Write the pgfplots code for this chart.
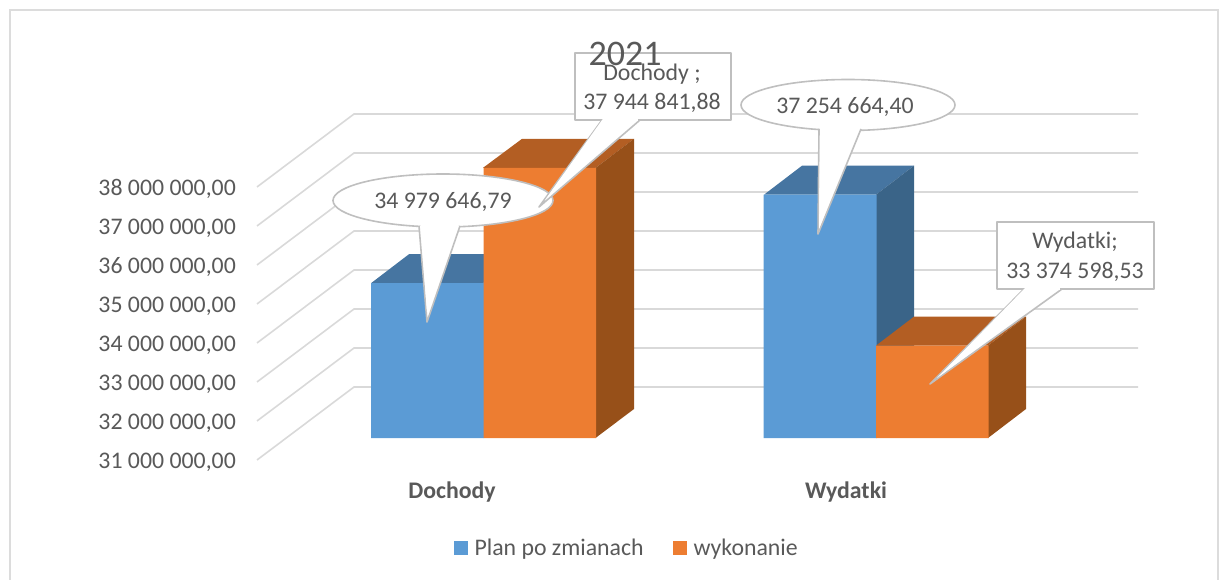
\documentclass[border=0pt]{standalone}
\usepackage{fontspec}
\setmainfont{Carlito}
\usepackage{pgfplots}
\pgfplotsset{compat=1.18}
\definecolor{txt}{HTML}{595959}
\definecolor{gridc}{HTML}{D9D9D9}
\definecolor{frame}{HTML}{DCDCDC}
\definecolor{callb}{HTML}{BFBFBF}
\definecolor{bluef}{HTML}{5B9BD5}
\definecolor{bluet}{HTML}{4675A1}
\definecolor{blues}{HTML}{3A6488}
\definecolor{orf}{HTML}{ED7D31}
\definecolor{ort}{HTML}{B35E23}
\definecolor{ors}{HTML}{975019}
\newcommand{\lab}{\fontsize{23.8}{29}\selectfont}
\begin{document}
\begin{tikzpicture}
\useasboundingbox (0pt,0pt) rectangle (1229pt,579pt);
\draw[frame,line width=1.6pt] (10pt,-5pt) -- (10pt,569pt) -- (1218pt,569pt) -- (1218pt,-5pt);
% wall: grid and value axis
\begin{axis}[
  at={(257pt,119pt)},anchor=south west,scale only axis,
  width=881pt,height=273pt,
  xmin=257,xmax=1138,ymin=31000000,ymax=38000000,
  clip=false,axis line style={draw=none},major tick length=0pt,
  scaled y ticks=false,
  xtick=\empty,
  ytick={31000000,32000000,33000000,34000000,35000000,36000000,37000000,38000000},
  yticklabels={{31 000 000,00},{32 000 000,00},{33 000 000,00},{34 000 000,00},{35 000 000,00},{36 000 000,00},{37 000 000,00},{38 000 000,00}},
  yticklabel style={font=\lab,text=txt,anchor=east,xshift=-21pt,yshift=-2pt,inner sep=0pt},
]
\addplot[gridc,line width=1.6pt] coordinates {(257,31000000)(354,32871800)(1138,32871800)};
\addplot[gridc,line width=1.6pt] coordinates {(257,32000000)(354,33871800)(1138,33871800)};
\addplot[gridc,line width=1.6pt] coordinates {(257,33000000)(354,34871800)(1138,34871800)};
\addplot[gridc,line width=1.6pt] coordinates {(257,34000000)(354,35871800)(1138,35871800)};
\addplot[gridc,line width=1.6pt] coordinates {(257,35000000)(354,36871800)(1138,36871800)};
\addplot[gridc,line width=1.6pt] coordinates {(257,36000000)(354,37871800)(1138,37871800)};
\addplot[gridc,line width=1.6pt] coordinates {(257,37000000)(354,38871800)(1138,38871800)};
\addplot[gridc,line width=1.6pt] coordinates {(257,38000000)(354,39871800)(1138,39871800)};
\end{axis}
% front plane: bars
\begin{axis}[
  at={(0pt,141pt)},anchor=south west,scale only axis,
  width=1229pt,height=311.2pt,
  xmin=0,xmax=1229,ymin=31000000,ymax=39000000,
  clip=false,axis line style={draw=none},major tick length=0pt,
  ytick=\empty,
  xtick={452,846},xticklabels={Dochody,Wydatki},
  xticklabel style={font=\lab\bfseries,text=txt,anchor=base,yshift=-60pt,inner sep=0pt},
  legend columns=2,
  legend style={at={(454pt,-110pt)},anchor=west,draw=none,fill=none,inner sep=0pt,font=\lab,text=txt,
    /tikz/every even column/.append style={column sep=29.5pt},
    nodes={inner sep=0pt}},
  legend cell align=left,
  legend image code/.code={\fill[#1] (0pt,-6.9pt) rectangle (13.8pt,6.9pt);},
]
% blue depth faces
\addplot[forget plot,fill=bluet,draw=none] coordinates {(371,34979646.79)(483,34979646.79)(521,35725146.79)(409,35725146.79)} --cycle;
\addplot[forget plot,fill=bluet,draw=none] coordinates {(764,37254664.40)(876,37254664.40)(914,38000164.40)(802,38000164.40)} --cycle;
\addplot[forget plot,fill=blues,draw=none] coordinates {(876,31000000)(914,31745500)(914,38000164.40)(876,37254664.40)} --cycle;
% blue fronts
\addplot[ybar,bar width=113pt,bar shift=-56pt,fill=bluef,draw=none] coordinates {(483.5,34979646.79)(876,37254664.40)};
\addlegendentry{\hspace{6.5pt}Plan po zmianach}
% orange depth faces
\addplot[forget plot,fill=ort,draw=none] coordinates {(483,37944841.88)(595.5,37944841.88)(634,38690341.88)(522,38690341.88)} --cycle;
\addplot[forget plot,fill=ors,draw=none] coordinates {(595.5,31000000)(634,31745500)(634,38690341.88)(595.5,37944841.88)} --cycle;
\addplot[forget plot,fill=ort,draw=none] coordinates {(876,33374598.53)(988,33374598.53)(1026,34120098.53)(914,34120098.53)} --cycle;
\addplot[forget plot,fill=ors,draw=none] coordinates {(988,31000000)(1026,31745500)(1026,34120098.53)(988,33374598.53)} --cycle;
% orange fronts
\addplot[ybar,bar width=112.5pt,bar shift=56.25pt,fill=orf,draw=none] coordinates {(483.5,37944841.88)(876,33374598.53)};
\addlegendentry{\hspace{6.5pt}wykonanie}
\end{axis}
% callouts, in reference pixels
\begin{scope}[x=1pt,y=-1pt,yshift=579pt]
\tikzset{call/.style={draw=callb,fill=white,line width=1.6pt,line join=round}}
% Wydatki plan
\draw[call] (848,105) ellipse[x radius=107,y radius=25.5];
\draw[call] (819,129) -- (818,234) -- (861,129);
\fill[white] (820.2,128) -- (819.2,228) -- (859,128) -- cycle;
\fill[white] (820.2,124) rectangle (859.5,129.5);
% Dochody plan
\draw[call] (443,200.5) ellipse[x radius=110,y radius=26.5];
\draw[call] (419,226) -- (427,322) -- (460,226);
\fill[white] (420.6,224) -- (427,312) -- (458.4,224) -- cycle;
\fill[white] (420.6,220) rectangle (458.4,226.5);
% Dochody wykonanie
\draw[call] (602,120) -- (539,207) -- (640,120);
\draw[call] (575,53) rectangle (731,120);
\fill[white] (603.5,118) -- (545,200) -- (637,118) -- cycle;
\fill[white] (603.5,116) rectangle (638,121.2);
% Wydatki wykonanie
\draw[call] (1024,289) -- (930,384) -- (1062,289);
\draw[call] (997,222) rectangle (1154,289);
\fill[white] (1026,287) -- (937,378) -- (1059,287) -- cycle;
\fill[white] (1025.5,285) rectangle (1060,290.2);
% texts
\tikzset{t/.style={font=\lab,text=txt,anchor=center,inner sep=0pt}}
\node[t] at (443,202) {34 979 646,79};
\node[t] at (845,107) {37 254 664,40};
\node[t] at (652,74) {Dochody ;};
\node[t] at (652,103) {37 944 841,88};
\node[t] at (1075,242) {Wydatki;};
\node[t] at (1075,272) {33 374 598,53};
\node[font=\fontsize{36}{40}\selectfont,text=txt,anchor=center,inner sep=0pt] at (625,54) {2021};
\end{scope}
\end{tikzpicture}
\end{document}
